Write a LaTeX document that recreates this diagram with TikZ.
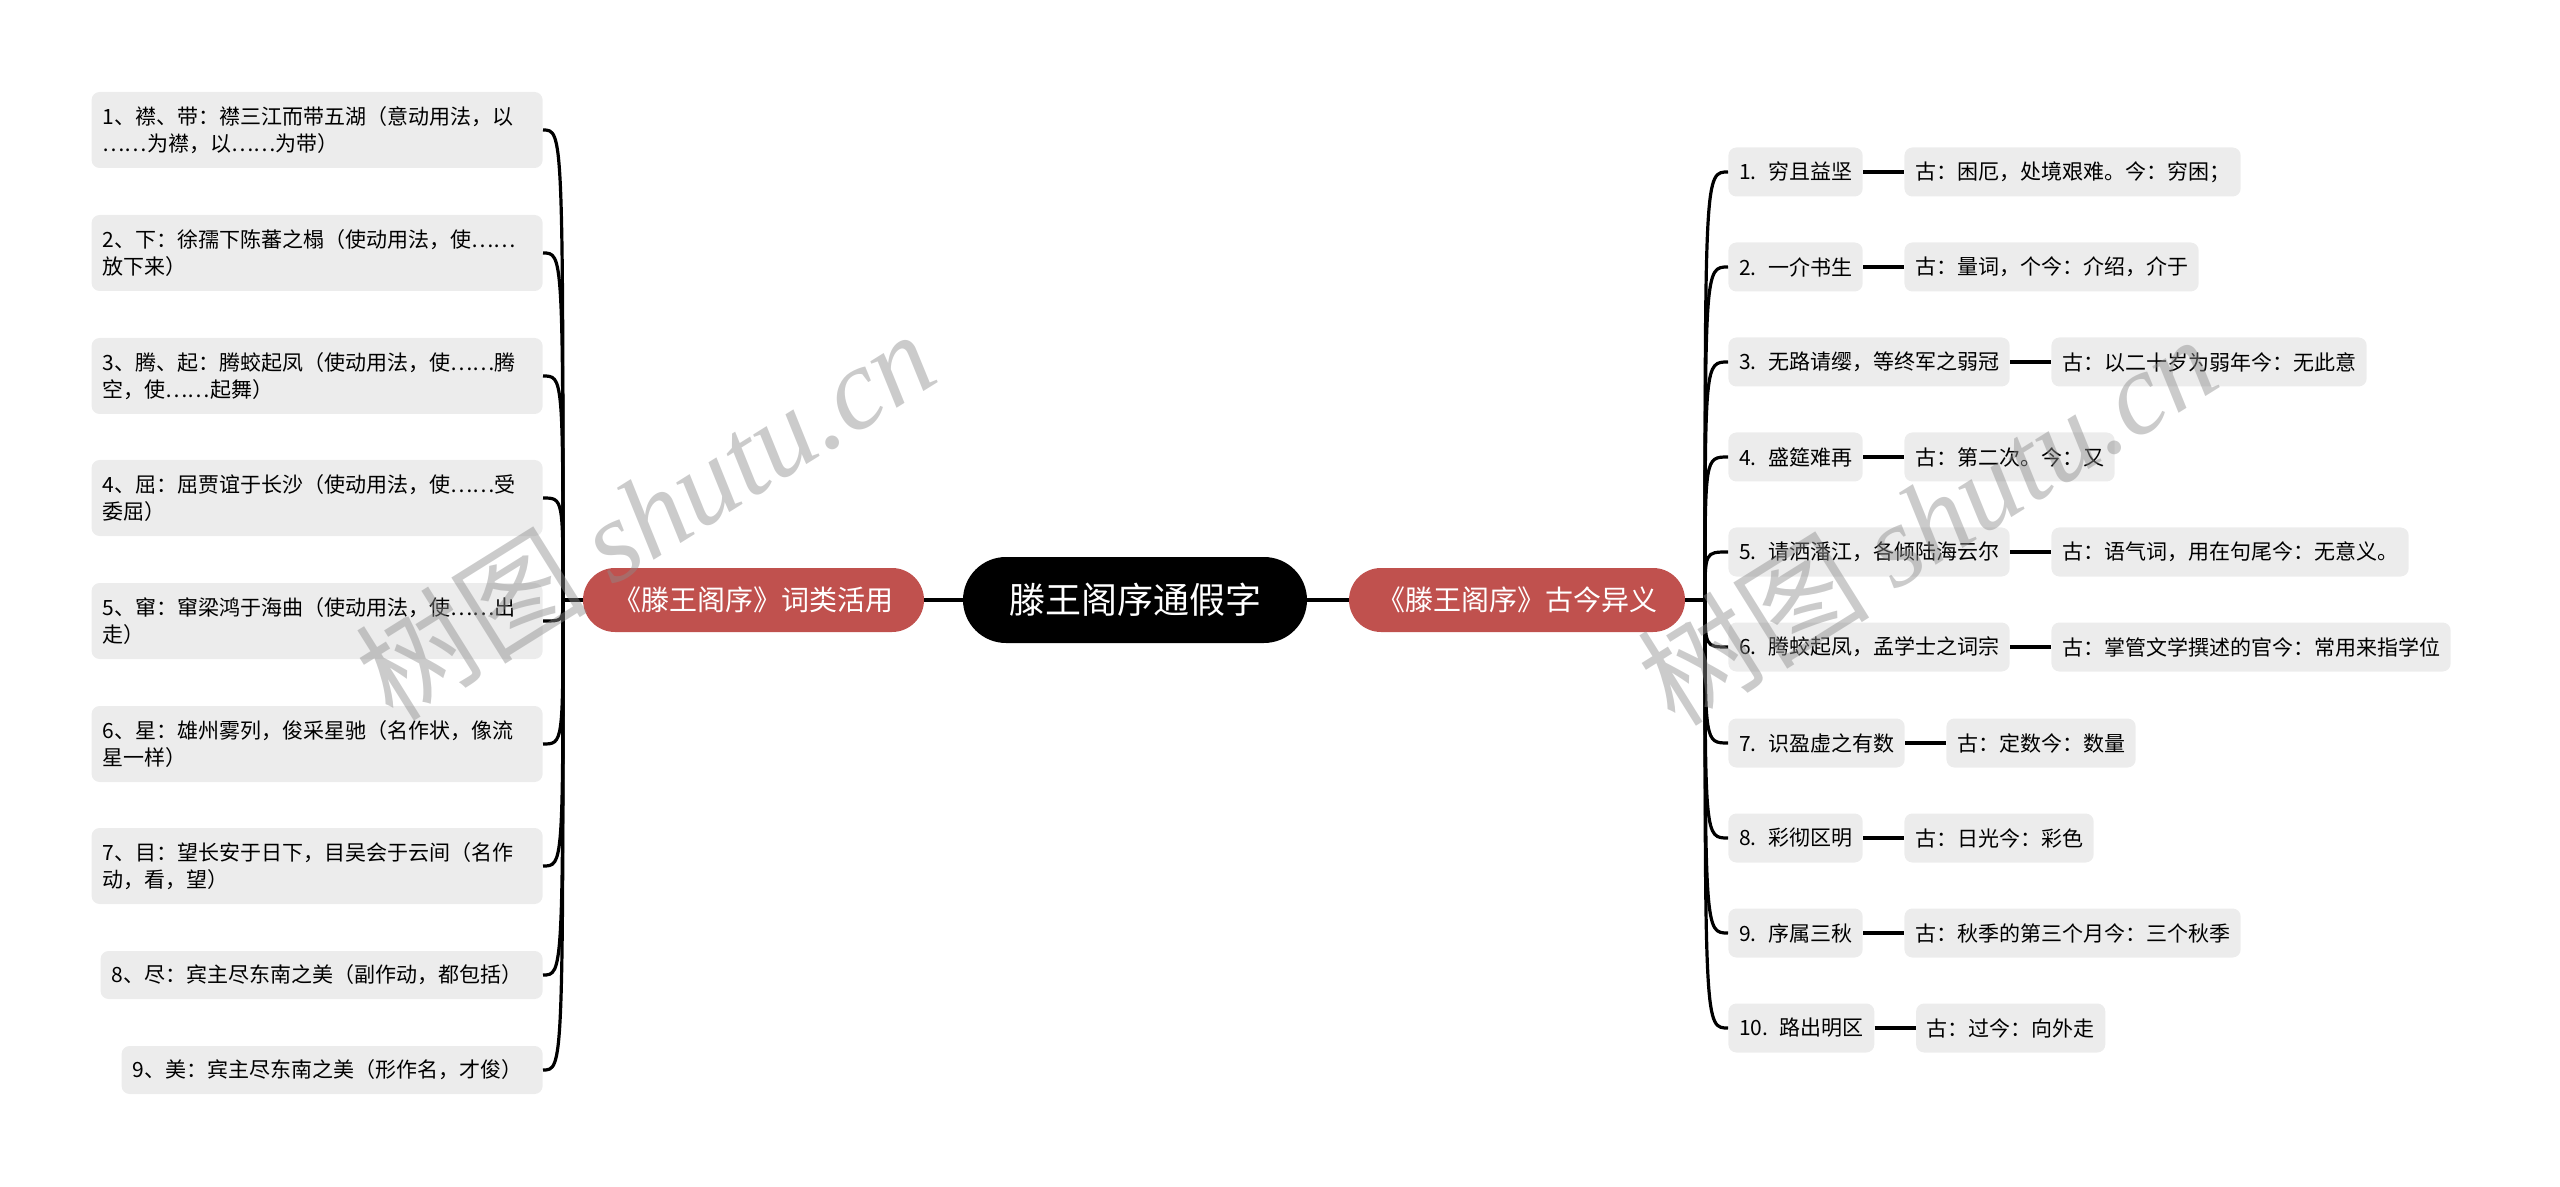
\documentclass[tikz,border=0pt]{standalone}
\usepackage{fontspec}
\setmainfont{Noto Sans CJK SC}
\newfontfamily\wmlatin{Liberation Serif}
\usetikzlibrary{calc}
\definecolor{branchred}{RGB}{192,81,78}
\definecolor{leafgray}{RGB}{236,236,236}
\definecolor{wmgray}{RGB}{140,140,140}
\begin{document}
\begin{tikzpicture}[x=0.5pt,y=-0.5pt,
  conn/.style={line width=1.6pt, black},
  leafL/.style={fill=leafgray, rounded corners=4pt, inner xsep=5.5pt, inner ysep=0pt,
    align=left, font=\fontsize{10.5}{13.5}\selectfont, anchor=east},
  twoline/.style={leafL, text width=214.5pt, minimum height=38pt},
  oneline/.style={leafL, minimum height=24pt},
  leafR/.style={fill=leafgray, rounded corners=4pt, inner xsep=5.3pt, inner ysep=0pt,
    minimum height=24.5pt, font=\fontsize{10.5}{13.5}\selectfont, anchor=west},
  branch/.style={fill=branchred, text=white, rounded corners=16pt, minimum height=32pt,
    font=\fontsize{14}{16}\selectfont},
  watermark/.style={rotate=32, text=wmgray, opacity=0.45, font=\fontsize{58}{64}\selectfont}
]
\useasboundingbox (0,0) rectangle (2560,1187);

% centre and branches
\node[fill=black, text=white, rounded corners=21.5pt, minimum width=172pt, minimum height=43pt,
  font=\fontsize{18}{20}\selectfont] (c) at (1135,600) {滕王阁序通假字};
\node[branch, minimum width=170.5pt] (lb) at (753.5,600) {《滕王阁序》词类活用};
\node[branch, minimum width=168pt] (rb) at (1517,600) {《滕王阁序》古今异义};
\draw[conn] (c.west) -- (lb.east);
\draw[conn] (c.east) -- (rb.west);

% left leaves
\node[twoline] (l1) at (543,130) {1、襟、带：襟三江而带五湖（意动用法，以\\……为襟，以……为带）};
\node[twoline] (l2) at (543,253) {2、下：徐孺下陈蕃之榻（使动用法，使……\\放下来）};
\node[twoline] (l3) at (543,376) {3、腾、起：腾蛟起凤（使动用法，使……腾\\空，使……起舞）};
\node[twoline] (l4) at (543,498) {4、屈：屈贾谊于长沙（使动用法，使……受\\委屈）};
\node[twoline] (l5) at (543,621) {5、窜：窜梁鸿于海曲（使动用法，使……出\\走）};
\node[twoline] (l6) at (543,744) {6、星：雄州雾列，俊采星驰（名作状，像流\\星一样）};
\node[twoline] (l7) at (543,866) {7、目：望长安于日下，目吴会于云间（名作\\动，看，望）};
\node[oneline, text width=210pt] (l8) at (543,975) {8、尽：宾主尽东南之美（副作动，都包括）};
\node[oneline, text width=199.5pt] (l9) at (543,1070) {9、美：宾主尽东南之美（形作名，才俊）};

\coordinate (lt) at (563,600);
\draw[conn] (lb.west) -- (lt);
\foreach \i in {1,...,9} {
  \draw[conn] (lt) .. controls (lt |- l\i.east) .. (l\i.east);
}

% right leaves
\node[leafR] (r1) at (1728,172) {1.\hspace{0.55em}穷且益坚};
\node[leafR] (r2) at (1728,267) {2.\hspace{0.55em}一介书生};
\node[leafR] (r3) at (1728,362) {3.\hspace{0.55em}无路请缨，等终军之弱冠};
\node[leafR] (r4) at (1728,457) {4.\hspace{0.55em}盛筵难再};
\node[leafR] (r5) at (1728,552) {5.\hspace{0.55em}请洒潘江，各倾陆海云尔};
\node[leafR] (r6) at (1728,647) {6.\hspace{0.55em}腾蛟起凤，孟学士之词宗};
\node[leafR] (r7) at (1728,743) {7.\hspace{0.55em}识盈虚之有数};
\node[leafR] (r8) at (1728,838) {8.\hspace{0.55em}彩彻区明};
\node[leafR] (r9) at (1728,933) {9.\hspace{0.55em}序属三秋};
\node[leafR] (r10) at (1728,1028) {10.\hspace{0.55em}路出明区};

\node[leafR] (g1) at ([xshift=20.5pt]r1.east) {古：困厄，处境艰难。今：穷困；};
\node[leafR] (g2) at ([xshift=20.5pt]r2.east) {古：量词，个今：介绍，介于};
\node[leafR] (g3) at ([xshift=20.5pt]r3.east) {古：以二十岁为弱年今：无此意};
\node[leafR] (g4) at ([xshift=20.5pt]r4.east) {古：第二次。今：又};
\node[leafR] (g5) at ([xshift=20.5pt]r5.east) {古：语气词，用在句尾今：无意义。};
\node[leafR] (g6) at ([xshift=20.5pt]r6.east) {古：掌管文学撰述的官今：常用来指学位};
\node[leafR] (g7) at ([xshift=20.5pt]r7.east) {古：定数今：数量};
\node[leafR] (g8) at ([xshift=20.5pt]r8.east) {古：日光今：彩色};
\node[leafR] (g9) at ([xshift=20.5pt]r9.east) {古：秋季的第三个月今：三个秋季};
\node[leafR] (g10) at ([xshift=20.5pt]r10.east) {古：过今：向外走};

\coordinate (rt) at (1705,600);
\draw[conn] (rb.east) -- (rt);
\foreach \i in {1,...,10} {
  \draw[conn] (rt) .. controls (rt |- r\i.west) .. (r\i.west);
  \draw[conn] (r\i.east) -- (g\i.west);
}

% watermarks
\node[watermark] (wm1) at (645,514) {树图 {\wmlatin\itshape shutu.cn}};
\node[watermark] (wm2) at (1927,519) {树图 {\wmlatin\itshape shutu.cn}};
\end{tikzpicture}
\end{document}
